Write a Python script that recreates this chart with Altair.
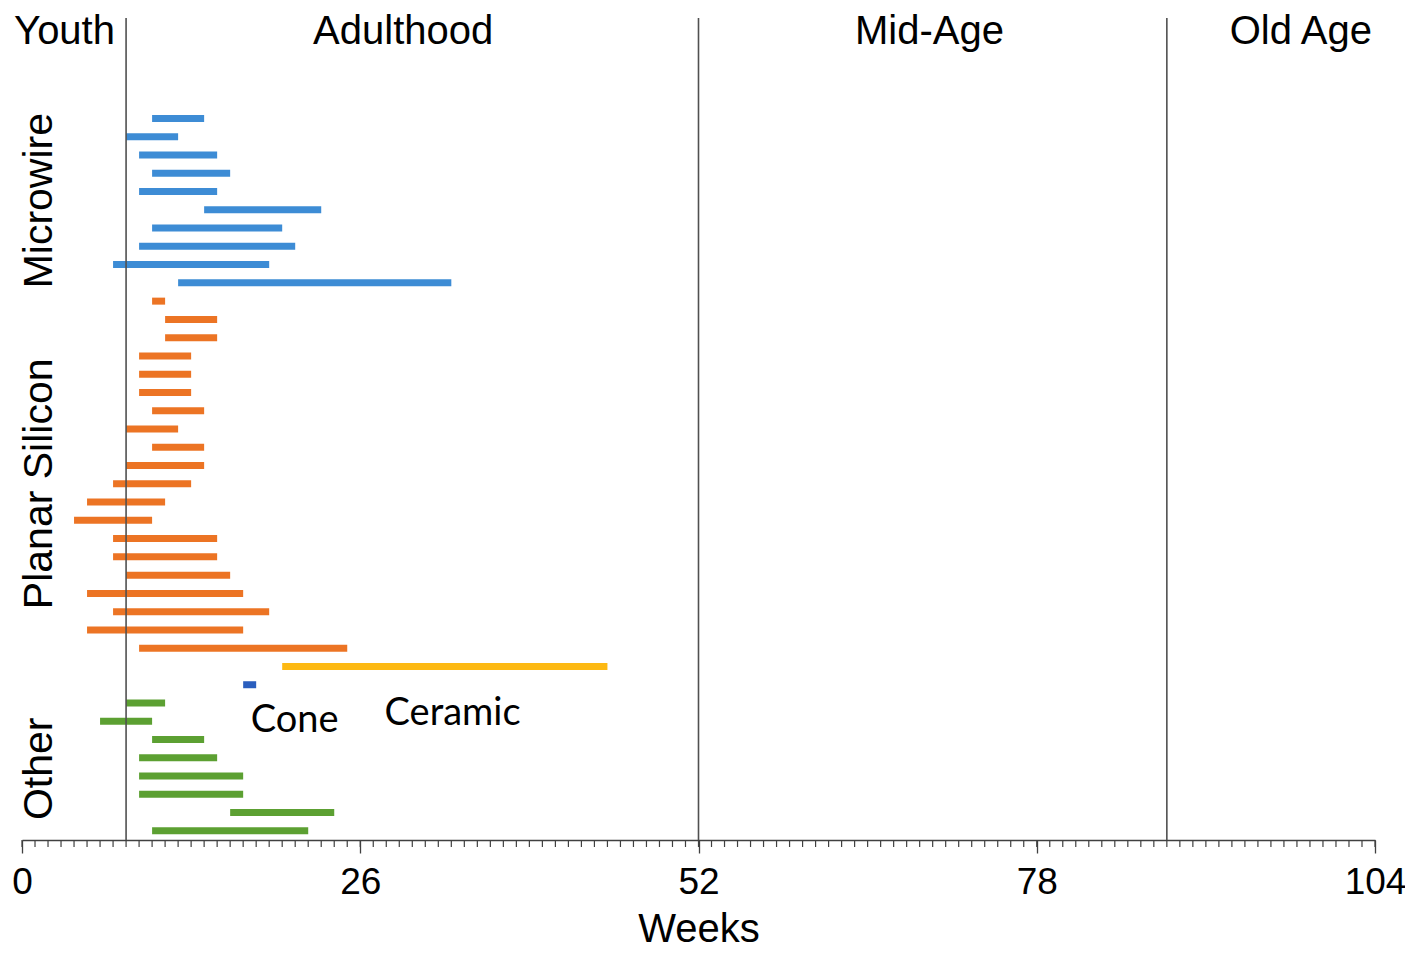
import altair as alt
import pandas as pd

# ---- data (weeks) ----
groups = (["Microwire"] * 10 + ["Planar Silicon"] * 20 + ["Ceramic"] + ["Cone"] + ["Other"] * 8)
starts = [10, 8, 9, 10, 9, 14, 10, 9, 7, 12,
          10, 11, 11, 9, 9, 9, 10, 8, 10, 8, 7, 5, 4, 7, 7, 8, 5, 7, 5, 9,
          20,
          17,
          8, 6, 10, 9, 9, 9, 16, 10]
ends = [14, 12, 15, 16, 15, 23, 20, 21, 19, 33,
        11, 15, 15, 13, 13, 13, 14, 12, 14, 14, 13, 11, 10, 15, 15, 16, 17, 19, 17, 25,
        45,
        18,
        11, 10, 14, 15, 17, 17, 24, 22]
rows = list(range(1, len(starts) + 1))

stage_lines = [8, 52, 88]
stage_names = ["Youth", "Adulthood", "Mid-Age", "Old Age"]
stage_label_x = [3.27, 29.3, 69.75, 98.3]

group_names = ["Microwire", "Planar Silicon", "Other"]
group_label_row = [5.5, 21.0, 36.6]

notes = ["Cone", "Ceramic"]
note_x = [20.95, 33.1]
note_row = [34.58, 34.2]

major_ticks = [0, 26, 52, 78, 104]
minor_ticks = list(range(0, 105))

color_domain = ["Microwire", "Planar Silicon", "Ceramic", "Cone", "Other"]
color_range = ["#3D8CD5", "#EC7424", "#FDB913", "#2A5EBE", "#5CA032"]

W, H = 1353, 822

bars_df = pd.DataFrame({"group": groups, "start": starts, "end": ends, "row": rows})

xscale = alt.Scale(domain=[0, 104], nice=False, zero=False)
yscale = alt.Scale(domain=[-4.5, 40.5], reverse=True, nice=False, zero=False)

xaxis = alt.Axis(values=major_ticks, title="Weeks", grid=False,
                 tickSize=13, tickColor="#404040", tickWidth=1.3,
                 domainColor="#404040", domainWidth=1.5,
                 labelFont="Liberation Sans", labelFontSize=37,
                 labelColor="black", labelPadding=11, labelFlush=False,
                 titleFont="Liberation Sans", titleFontSize=40,
                 titleFontWeight="normal", titleColor="black",
                 titlePadding=9)

bars = alt.Chart(bars_df).mark_rule(strokeWidth=7, strokeCap="butt").encode(
    x=alt.X("start:Q", scale=xscale, axis=xaxis),
    x2="end:Q",
    y=alt.Y("row:Q", scale=yscale, axis=None),
    color=alt.Color("group:N", scale=alt.Scale(domain=color_domain, range=color_range),
                    legend=None),
)

vlines = alt.Chart(pd.DataFrame({"w": stage_lines})).mark_rule(
    color="#505050", strokeWidth=1.6
).encode(x=alt.X("w:Q", scale=xscale, axis=xaxis))

minor = alt.Chart(pd.DataFrame({"w": minor_ticks})).mark_rule(
    color="#404040", strokeWidth=1.2
).encode(x=alt.X("w:Q", scale=xscale, axis=xaxis), y=alt.value(H), y2=alt.value(H + 7))

stage_txt = alt.Chart(pd.DataFrame({"name": stage_names, "x": stage_label_x})).mark_text(
    font="Liberation Sans", fontSize=40, color="black", align="center", baseline="alphabetic"
).encode(x=alt.X("x:Q", scale=xscale, axis=xaxis), y=alt.value(26), text="name:N")

group_txt = alt.Chart(pd.DataFrame({"name": group_names, "r": group_label_row})).mark_text(
    font="Liberation Sans", fontSize=41, color="black", align="center",
    baseline="alphabetic", angle=270
).encode(x=alt.value(30), y=alt.Y("r:Q", scale=yscale, axis=None), text="name:N")

note_txt = alt.Chart(pd.DataFrame({"name": notes, "x": note_x, "r": note_row})).mark_text(
    font="Lato", fontSize=38, color="black", align="center", baseline="alphabetic"
).encode(x=alt.X("x:Q", scale=xscale, axis=xaxis), y=alt.Y("r:Q", scale=yscale, axis=None),
         text="name:N")

chart = alt.layer(bars, vlines, minor, stage_txt, group_txt, note_txt).properties(
    width=W, height=H,
    autosize=alt.AutoSizeParams(type="none"),
    padding={"left": 14, "top": 10, "right": 30, "bottom": 110},
).configure(background="white").configure_view(
    stroke="transparent", strokeWidth=0).configure_axis(grid=False)

chart.save("out.html", embed_options={"renderer": "svg", "actions": False})
